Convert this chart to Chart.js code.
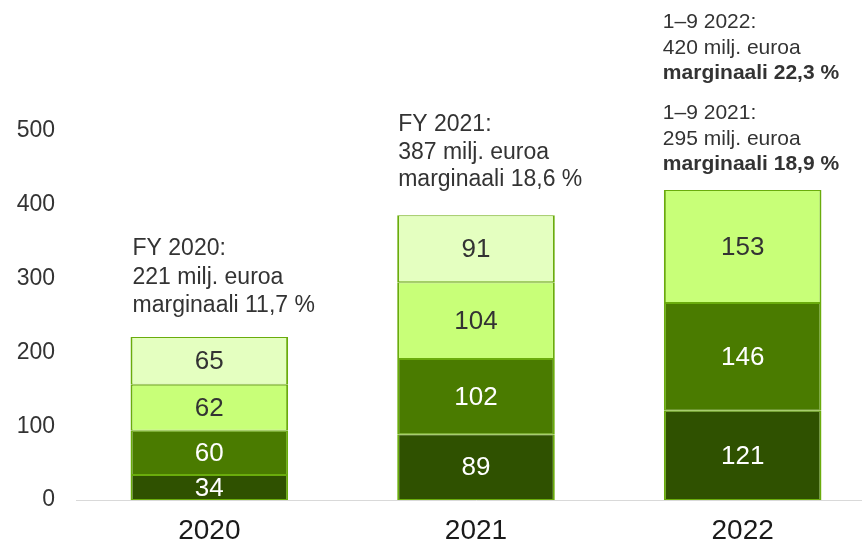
<!DOCTYPE html>
<html><head><meta charset="utf-8">
<script src="https://cdn.jsdelivr.net/npm/chart.js@4/dist/chart.umd.min.js"></script>
<style>html,body{margin:0;padding:0;overflow:hidden;background:#fff}#wrap{width:880px;height:545px;position:relative}</style>
</head><body><div id="wrap"><canvas id="c"></canvas></div>
<script>
const categories = ['2020', '2021', '2022'];
const q1 = [34, 89, 121];
const q2 = [60, 102, 146];
const q3 = [62, 104, 153];
const q4 = [65, 91, null];
const yTickValues = [0, 100, 200, 300, 400, 500];
const notes2020 = [['FY 2020:', false], ['221 milj. euroa', false], ['marginaali 11,7 %', false]];
const notes2021 = [['FY 2021:', false], ['387 milj. euroa', false], ['marginaali 18,6 %', false]];
const notes2022 = [['1–9 2022:', false], ['420 milj. euroa', false], ['marginaali 22,3 %', true], null,
                   ['1–9 2021:', false], ['295 milj. euroa', false], ['marginaali 18,9 %', true]];
const notes = [notes2020, notes2021, notes2022];

const FONT = 'Arial, "Liberation Sans", sans-serif';
const segBorder = {top: 1, bottom: 1, left: 2, right: 2};

const labelPlugin = {
  id: 'labels',
  afterDatasetsDraw(chart, args, opts) {
    const ctx = chart.ctx;
    ctx.save();
    // value labels
    chart.data.datasets.forEach((ds, di) => {
      const meta = chart.getDatasetMeta(di);
      meta.data.forEach((el, i) => {
        const v = ds.data[i];
        if (v == null) return;
        ctx.font = '26px ' + FONT;
        ctx.fillStyle = opts.valueColors[di];
        ctx.textAlign = 'center';
        ctx.textBaseline = 'middle';
        ctx.fillText(String(v), el.x, (el.y + el.base) / 2 + 1);
      });
    });
    // annotations
    notes.forEach((lines, i) => {
      let top = null;
      for (let di = chart.data.datasets.length - 1; di >= 0; di--) {
        if (chart.data.datasets[di].data[i] != null) { top = chart.getDatasetMeta(di).data[i]; break; }
      }
      if (!top) return;
      const st = opts.noteStyles[i];
      const left = top.x - top.width / 2 + st.dx;
      let y = top.y - st.gap;
      ctx.textAlign = 'left';
      ctx.textBaseline = 'middle';
      ctx.fillStyle = '#333333';
      for (let k = lines.length - 1; k >= 0; k--) {
        const ln = lines[k];
        if (ln === null) { y -= st.blank; continue; }
        ctx.font = (ln[1] ? 'bold ' : '') + st.size + 'px ' + FONT;
        ctx.fillText(ln[0], left, y);
        y -= st.lh;
      }
    });
    ctx.restore();
  }
};

new Chart(document.getElementById('c'), {
  type: 'bar',
  data: {
    labels: categories,
    datasets: [
      {label: 'Q1', data: q1, backgroundColor: '#2f5100', borderColor: '#6aac0c', borderWidth: segBorder, borderSkipped: false},
      {label: 'Q2', data: q2, backgroundColor: '#4a7b00', borderColor: '#6aac0c', borderWidth: segBorder, borderSkipped: false},
      {label: 'Q3', data: q3, backgroundColor: '#c8ff78', borderColor: '#6aac0c', borderWidth: segBorder, borderSkipped: false},
      {label: 'Q4', data: q4, backgroundColor: '#e4ffc0', borderColor: '#6aac0c', borderWidth: segBorder, borderSkipped: false}
    ]
  },
  options: {
    responsive: true,
    maintainAspectRatio: false,
    animation: false,
    devicePixelRatio: 1,
    layout: {padding: {top: 131, right: 4, left: 0, bottom: 0}},
    datasets: {bar: {barPercentage: 1, categoryPercentage: 0.591}},
    plugins: {
      legend: {display: false},
      tooltip: {enabled: false},
      labels: {
        valueColors: ['#ffffff', '#ffffff', '#333333', '#333333'],
        noteStyles: [
          {size: 23, lh: 28.5, gap: 31, dx: 2, blank: 0},
          {size: 23, lh: 27.5, gap: 35, dx: 1, blank: 0},
          {size: 21, lh: 25.5, gap: 25.5, dx: -1, blank: 14.5}
        ]
      }
    },
    scales: {
      x: {
        stacked: true,
        grid: {display: false, drawTicks: false},
        border: {display: true, color: '#d9d9d9', width: 1},
        ticks: {color: '#1a1a1a', font: {size: 28, family: FONT}, padding: 14},
        afterFit(s) { s.height = 45; }
      },
      y: {
        stacked: true,
        min: 0, max: 500,
        grid: {display: false, drawTicks: false},
        border: {display: false},
        afterBuildTicks(s) { s.ticks = yTickValues.map(v => ({value: v})); },
        ticks: {color: '#333333', font: {size: 23, family: FONT}, padding: 21},
        afterFit(s) { s.width = 76; }
      }
    }
  },
  plugins: [labelPlugin]
});
</script></body></html>
